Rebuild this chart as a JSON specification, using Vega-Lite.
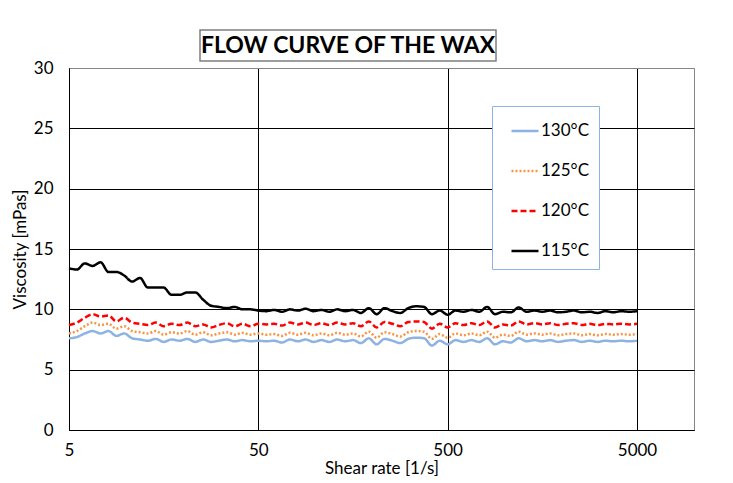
{
  "$schema": "https://vega.github.io/schema/vega-lite/v6.json",
  "padding": {"left": 10, "top": 29, "right": 0, "bottom": 0},
  "background": "white",
  "config": {"font": "Lato", "view": {"stroke": "#868686"}},
  "spacing": -4,
  "vconcat": [
    {
      "spacing": 0,
      "hconcat": [
        {
          "width": 130,
          "height": 31,
          "data": {"values": [{"t": ""}]},
          "view": {"stroke": null},
          "mark": {"type": "text"},
          "encoding": {"text": {"field": "t", "type": "nominal"}}
        },
        {
          "width": 296,
          "height": 31,
          "data": {"values": [{"t": "FLOW CURVE OF THE WAX"}]},
          "view": {"stroke": "#7f7f7f", "strokeWidth": 1.5},
          "mark": {"type": "text", "font": "Lato", "fontWeight": "bold", "fontSize": 23, "color": "black"},
          "encoding": {"text": {"field": "t", "type": "nominal"}}
        }
      ]
    },
    {
      "width": 625,
      "height": 362,
      "data": {"values": [
        {"r": 5, "130°C": 7.6, "125°C": 8.0, "120°C": 8.7, "115°C": 13.4},
        {"r": 5.5, "130°C": 7.7, "125°C": 8.2, "120°C": 8.9, "115°C": 13.3},
        {"r": 6.06, "130°C": 8.0, "125°C": 8.6, "120°C": 9.3, "115°C": 13.8},
        {"r": 6.67, "130°C": 8.2, "125°C": 8.9, "120°C": 9.6, "115°C": 13.6},
        {"r": 7.34, "130°C": 8.0, "125°C": 8.7, "120°C": 9.4, "115°C": 13.9},
        {"r": 8.08, "130°C": 8.2, "125°C": 8.8, "120°C": 9.5, "115°C": 13.1},
        {"r": 8.89, "130°C": 7.8, "125°C": 8.4, "120°C": 9.0, "115°C": 13.1},
        {"r": 9.79, "130°C": 8.0, "125°C": 8.6, "120°C": 9.3, "115°C": 12.8},
        {"r": 10.77, "130°C": 7.6, "125°C": 8.2, "120°C": 8.9, "115°C": 12.3},
        {"r": 11.86, "130°C": 7.5, "125°C": 8.1, "120°C": 8.8, "115°C": 12.6},
        {"r": 13.05, "130°C": 7.4, "125°C": 8.0, "120°C": 8.7, "115°C": 11.8},
        {"r": 14.37, "130°C": 7.55, "125°C": 8.2, "120°C": 8.9, "115°C": 11.8},
        {"r": 15.81, "130°C": 7.3, "125°C": 7.9, "120°C": 8.6, "115°C": 11.8},
        {"r": 17.4, "130°C": 7.5, "125°C": 8.1, "120°C": 8.8, "115°C": 11.2},
        {"r": 19.16, "130°C": 7.4, "125°C": 8.0, "120°C": 8.7, "115°C": 11.2},
        {"r": 21.09, "130°C": 7.55, "125°C": 8.2, "120°C": 8.9, "115°C": 11.4},
        {"r": 23.21, "130°C": 7.3, "125°C": 7.9, "120°C": 8.6, "115°C": 11.4},
        {"r": 25.55, "130°C": 7.5, "125°C": 8.1, "120°C": 8.75, "115°C": 10.8},
        {"r": 28.12, "130°C": 7.3, "125°C": 7.85, "120°C": 8.5, "115°C": 10.3},
        {"r": 30.95, "130°C": 7.4, "125°C": 8.0, "120°C": 8.7, "115°C": 10.2},
        {"r": 34.06, "130°C": 7.5, "125°C": 8.1, "120°C": 8.85, "115°C": 10.1},
        {"r": 37.49, "130°C": 7.35, "125°C": 7.9, "120°C": 8.6, "115°C": 10.2},
        {"r": 41.27, "130°C": 7.45, "125°C": 8.05, "120°C": 8.8, "115°C": 10.0},
        {"r": 45.43, "130°C": 7.35, "125°C": 7.9, "120°C": 8.6, "115°C": 10.0},
        {"r": 50, "130°C": 7.4, "125°C": 8.0, "120°C": 8.8, "115°C": 9.9},
        {"r": 55.0, "130°C": 7.35, "125°C": 7.9, "120°C": 8.75, "115°C": 9.85},
        {"r": 60.6, "130°C": 7.4, "125°C": 7.95, "120°C": 8.8, "115°C": 9.95},
        {"r": 66.7, "130°C": 7.25, "125°C": 7.8, "120°C": 8.65, "115°C": 9.8},
        {"r": 73.4, "130°C": 7.5, "125°C": 8.05, "120°C": 8.9, "115°C": 10.0},
        {"r": 80.8, "130°C": 7.35, "125°C": 7.9, "120°C": 8.75, "115°C": 9.9},
        {"r": 88.9, "130°C": 7.5, "125°C": 8.05, "120°C": 8.9, "115°C": 10.05},
        {"r": 97.9, "130°C": 7.3, "125°C": 7.85, "120°C": 8.7, "115°C": 9.85},
        {"r": 107.7, "130°C": 7.45, "125°C": 8.0, "120°C": 8.85, "115°C": 9.95},
        {"r": 118.6, "130°C": 7.3, "125°C": 7.85, "120°C": 8.7, "115°C": 9.8},
        {"r": 130.5, "130°C": 7.5, "125°C": 8.05, "120°C": 8.9, "115°C": 10.0},
        {"r": 143.7, "130°C": 7.35, "125°C": 7.9, "120°C": 8.75, "115°C": 9.85},
        {"r": 158.1, "130°C": 7.45, "125°C": 8.0, "120°C": 8.85, "115°C": 9.95},
        {"r": 174.0, "130°C": 7.2, "125°C": 7.75, "120°C": 8.6, "115°C": 9.7},
        {"r": 191.6, "130°C": 7.6, "125°C": 8.15, "120°C": 9.0, "115°C": 10.1},
        {"r": 210.9, "130°C": 7.1, "125°C": 7.65, "120°C": 8.5, "115°C": 9.6},
        {"r": 232.1, "130°C": 7.55, "125°C": 8.1, "120°C": 8.95, "115°C": 10.1},
        {"r": 255.5, "130°C": 7.4, "125°C": 7.95, "120°C": 8.8, "115°C": 9.85},
        {"r": 281.2, "130°C": 7.2, "125°C": 7.75, "120°C": 8.6, "115°C": 9.7},
        {"r": 309.5, "130°C": 7.55, "125°C": 8.1, "120°C": 8.95, "115°C": 10.1},
        {"r": 340.6, "130°C": 7.65, "125°C": 8.2, "120°C": 9.0, "115°C": 10.25},
        {"r": 374.9, "130°C": 7.6, "125°C": 8.15, "120°C": 8.95, "115°C": 10.2},
        {"r": 412.7, "130°C": 7.0, "125°C": 7.55, "120°C": 8.4, "115°C": 9.6},
        {"r": 454.3, "130°C": 7.4, "125°C": 7.95, "120°C": 8.8, "115°C": 9.9},
        {"r": 500, "130°C": 7.1, "125°C": 7.65, "120°C": 8.5, "115°C": 9.55},
        {"r": 550, "130°C": 7.45, "125°C": 8.0, "120°C": 8.85, "115°C": 9.9},
        {"r": 606, "130°C": 7.3, "125°C": 7.85, "120°C": 8.7, "115°C": 9.8},
        {"r": 667, "130°C": 7.45, "125°C": 8.0, "120°C": 8.85, "115°C": 9.95},
        {"r": 734, "130°C": 7.3, "125°C": 7.85, "120°C": 8.7, "115°C": 9.8},
        {"r": 808, "130°C": 7.6, "125°C": 8.15, "120°C": 9.0, "115°C": 10.2},
        {"r": 889, "130°C": 7.1, "125°C": 7.65, "120°C": 8.5, "115°C": 9.6},
        {"r": 979, "130°C": 7.35, "125°C": 7.9, "120°C": 8.75, "115°C": 9.8},
        {"r": 1077, "130°C": 7.25, "125°C": 7.8, "120°C": 8.65, "115°C": 9.75},
        {"r": 1186, "130°C": 7.6, "125°C": 8.15, "120°C": 9.0, "115°C": 10.15},
        {"r": 1305, "130°C": 7.35, "125°C": 7.9, "120°C": 8.75, "115°C": 9.8},
        {"r": 1437, "130°C": 7.45, "125°C": 8.0, "120°C": 8.85, "115°C": 9.9},
        {"r": 1581, "130°C": 7.35, "125°C": 7.9, "120°C": 8.75, "115°C": 9.8},
        {"r": 1740, "130°C": 7.45, "125°C": 8.0, "120°C": 8.85, "115°C": 9.9},
        {"r": 1916, "130°C": 7.3, "125°C": 7.85, "120°C": 8.7, "115°C": 9.75},
        {"r": 2109, "130°C": 7.4, "125°C": 7.95, "120°C": 8.8, "115°C": 9.8},
        {"r": 2321, "130°C": 7.45, "125°C": 8.0, "120°C": 8.85, "115°C": 9.9},
        {"r": 2555, "130°C": 7.3, "125°C": 7.85, "120°C": 8.7, "115°C": 9.75},
        {"r": 2812, "130°C": 7.4, "125°C": 7.95, "120°C": 8.8, "115°C": 9.8},
        {"r": 3095, "130°C": 7.3, "125°C": 7.85, "120°C": 8.7, "115°C": 9.7},
        {"r": 3406, "130°C": 7.4, "125°C": 7.95, "120°C": 8.8, "115°C": 9.85},
        {"r": 3749, "130°C": 7.35, "125°C": 7.9, "120°C": 8.75, "115°C": 9.75},
        {"r": 4127, "130°C": 7.4, "125°C": 7.95, "120°C": 8.8, "115°C": 9.85},
        {"r": 4543, "130°C": 7.35, "125°C": 7.9, "120°C": 8.75, "115°C": 9.8},
        {"r": 5000, "130°C": 7.4, "125°C": 7.95, "120°C": 8.8, "115°C": 9.85}
      ]},
      "transform": [{"fold": ["130°C", "125°C", "120°C", "115°C"], "as": ["temp", "v"]}],
      "mark": {"type": "line", "strokeWidth": 2.5, "interpolate": "monotone"},
      "encoding": {
        "x": {
          "field": "r", "type": "quantitative",
          "scale": {"type": "log", "domain": [5, 10000]},
          "axis": {
            "title": "Shear rate [1/s]", "values": [5, 50, 500, 5000], "format": "d",
            "grid": true, "gridColor": "black", "gridWidth": 1, "ticks": false,
            "domainColor": "black", "labelFont": "Lato", "labelFontSize": 17, "labelColor": "black",
            "labelPadding": 12, "labelFlush": false, "labelOverlap": false,
            "titleFont": "Lato", "titleFontSize": 17, "titleFontWeight": "normal", "titleColor": "black", "titlePadding": 2
          }
        },
        "y": {
          "field": "v", "type": "quantitative",
          "scale": {"domain": [0, 30]},
          "axis": {
            "title": "Viscosity [mPas]", "values": [0, 5, 10, 15, 20, 25, 30],
            "grid": true,
            "gridColor": {"condition": {"test": "datum.value == 30", "value": "#868686"}, "value": "black"},
            "gridWidth": 1, "ticks": false,
            "domainColor": "black", "labelFont": "Lato", "labelFontSize": 17, "labelColor": "black",
            "labelPadding": 16, "labelFlush": false,
            "titleFont": "Lato", "titleFontSize": 17, "titleFontWeight": "normal", "titleColor": "black", "titlePadding": 4
          }
        },
        "color": {
          "field": "temp", "type": "nominal",
          "scale": {"domain": ["130°C", "125°C", "120°C", "115°C"], "range": ["#8db3e2", "#f79646", "#ff0000", "#000000"]},
          "legend": {
            "title": null, "orient": "none", "legendX": 423, "legendY": 76, "padding": 10,
            "strokeColor": "#8db3e2", "fillColor": "white", "symbolType": "stroke", "symbolSize": 729,
            "symbolStrokeWidth": 2.5, "symbolOffset": 8, "labelFont": "Lato", "labelFontSize": 17,
            "labelColor": "black", "labelOffset": 1, "rowPadding": 17
          }
        },
        "strokeDash": {
          "field": "temp", "type": "nominal",
          "scale": {"domain": ["130°C", "125°C", "120°C", "115°C"], "range": [[1, 0], [2, 2], [6, 3], [1, 0]]},
          "legend": {
            "title": null, "orient": "none", "legendX": 423, "legendY": 76, "padding": 10,
            "strokeColor": "#8db3e2", "fillColor": "white", "symbolType": "stroke", "symbolSize": 729,
            "symbolStrokeWidth": 2.5, "symbolOffset": 8, "labelFont": "Lato", "labelFontSize": 17,
            "labelColor": "black", "labelOffset": 1, "rowPadding": 17
          }
        }
      }
    }
  ]
}
